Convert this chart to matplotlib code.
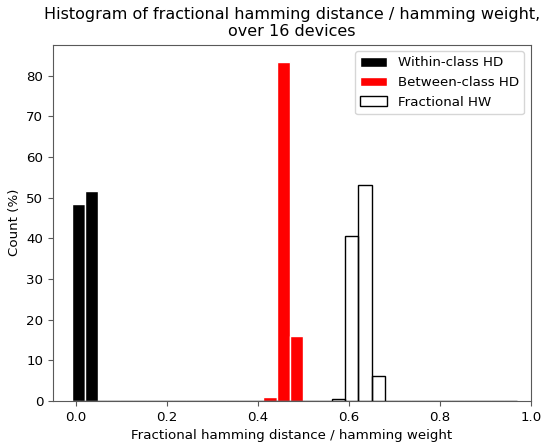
import numpy as np
import matplotlib
matplotlib.use("Agg")
import matplotlib.pyplot as plt

# Data
bin_width = 0.0291
within_start = -0.0088
within_counts = [48.5, 51.6] + [0.0] * 32
between_start = 0.4126
between_counts = [0.9, 83.4, 16.0]
hw_start = 0.0101
hw_counts = [0.0] * 19 + [0.5, 40.5, 53.1, 6.1] + [0.0] * 10

labels = ["Within-class HD", "Between-class HD", "Fractional HW"]

plt.rcParams["font.size"] = 9.6


def edges_for(start, counts):
    return start + bin_width * np.arange(len(counts) + 1)


fig, ax = plt.subplots(figsize=(5.41, 4.45), dpi=100)
fig.subplots_adjust(left=0.098, right=0.981, bottom=0.099, top=0.9)

e = edges_for(within_start, within_counts)
ax.hist(e[:-1], bins=e, weights=within_counts, color="black",
        edgecolor="white", linewidth=1, label=labels[0])
e = edges_for(between_start, between_counts)
ax.hist(e[:-1], bins=e, weights=between_counts, color="red",
        edgecolor="white", linewidth=1, label=labels[1])
e = edges_for(hw_start, hw_counts)
ax.hist(e[:-1], bins=e, weights=hw_counts, facecolor="none",
        edgecolor="black", linewidth=1.0, label=labels[2])

ax.set_xlim(-0.05, 1.0)
ax.set_ylim(0, 87.7)
ax.set_xlabel("Fractional hamming distance / hamming weight")
ax.set_ylabel("Count (%)")
ax.set_title("Histogram of fractional hamming distance / hamming weight,\nover 16 devices",
             fontsize=11.5)
for s in ax.spines.values():
    s.set_color("0.35")
ax.tick_params(color="0.35")
ax.legend(loc="upper right")

fig.savefig("out.png", dpi=100)
